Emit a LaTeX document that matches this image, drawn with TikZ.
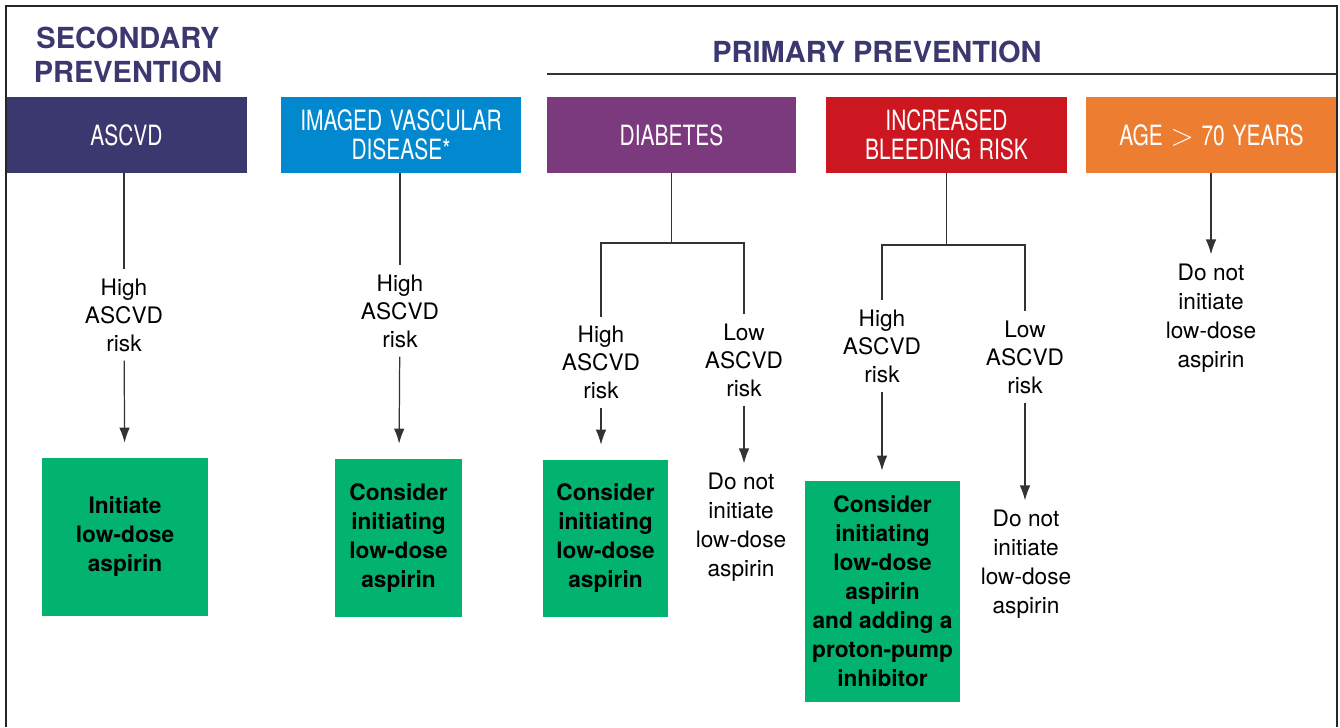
\documentclass[tikz,border=0pt]{standalone}
\usepackage{fontspec}
\setmainfont{TeX Gyre Heros}
\newfontfamily\condensed[FakeStretch=0.75,WordSpace=1.33]{TeX Gyre Heros}
\usepackage{xcolor}
\usetikzlibrary{arrows.meta,positioning,calc}
\definecolor{navy}{HTML}{3B3870}
\definecolor{vasblue}{HTML}{0288CF}
\definecolor{diabpurple}{HTML}{7B3A7D}
\definecolor{bleedred}{HTML}{CD1720}
\definecolor{ageorange}{HTML}{EC7D31}
\definecolor{actgreen}{HTML}{02B26F}
\begin{document}
\begin{tikzpicture}[
    >={Latex[length=8.5pt,width=6pt]},
    title/.style={font=\bfseries\fontsize{16.5}{19.3}\selectfont, text=navy, align=center, inner sep=0pt},
    hdr/.style={minimum width=4.82cm, minimum height=1.52cm, inner sep=0pt, text=white, align=center, font=\condensed\fontsize{15.9}{16.5}\selectfont},
    risk/.style={font=\fontsize{12.9}{15.9}\selectfont, align=center, inner sep=0.18cm},
    advice/.style={font=\fontsize{12.9}{16.5}\selectfont, align=center, inner sep=0.18cm},
    act/.style={fill=actgreen, font=\bfseries\fontsize{12.9}{16.5}\selectfont, align=center, inner sep=0pt},
    link/.style={draw=black!80, line width=0.7pt},
    frame/.style={draw=black!85, line width=1.1pt}
]
\useasboundingbox (0,0) rectangle (26.8,-14.54);

% titles
\node[title] (sec) at (2.56,-1.10) {SECONDARY\\PREVENTION};
\node[title] (prim) at (17.54,-1.04) {PRIMARY PREVENTION};
\draw[link, line width=0.8pt] (10.94,-1.48) -- (26.74,-1.48);

% header boxes
\node[hdr, fill=navy] (ascvd) at (2.53,-2.70) {ASCVD};
\node[hdr, fill=vasblue, minimum width=4.80cm] (vasc) at (8.02,-2.70) {IMAGED VASCULAR\\DISEASE*};
\node[hdr, fill=diabpurple, minimum width=4.98cm] (diab) at (13.43,-2.70) {DIABETES};
\node[hdr, fill=bleedred] (bleed) at (18.93,-2.70) {INCREASED\\BLEEDING RISK};
\node[hdr, fill=ageorange, minimum width=5.02cm] (age) at (24.23,-2.70) {AGE $>$ 70 YEARS};

% risk labels
\node[risk] (hiA) at (2.48,-6.30) {High\\ASCVD\\risk};
\node[risk] (hiB) at (8.00,-6.22) {High\\ASCVD\\risk};
\node[risk] (dHi) at (12.02,-7.25) {High\\ASCVD\\risk};
\node[risk] (dLo) at (14.88,-7.20) {Low\\ASCVD\\risk};
\node[risk] (bHi) at (17.64,-6.92) {High\\ASCVD\\risk};
\node[risk] (bLo) at (20.50,-7.14) {Low\\ASCVD\\risk};

% outcomes
\node[act, minimum width=3.32cm, minimum height=3.16cm] (gA) at (2.50,-10.74) {Initiate\\low-dose\\aspirin};
\node[act, minimum width=2.54cm, minimum height=3.16cm] (gB) at (7.97,-10.76) {Consider\\initiating\\low-dose\\aspirin};
\node[act, minimum width=2.50cm, minimum height=3.14cm] (gC) at (12.11,-10.77) {Consider\\initiating\\low-dose\\aspirin};
\node[act, minimum width=3.10cm, minimum height=4.42cm] (gD) at (17.65,-11.83) {Consider\\initiating\\low-dose\\aspirin\\and adding a\\proton-pump\\inhibitor};
\node[advice] (dNo) at (14.82,-10.54) {Do not\\initiate\\low-dose\\aspirin};
\node[advice] (bNo) at (20.52,-11.28) {Do not\\initiate\\low-dose\\aspirin};
\node[advice] (ageNo) at (24.22,-6.36) {Do not\\initiate\\low-dose\\aspirin};

\coordinate (dsplit) at (13.43,-4.86);
\coordinate (bsplit) at (18.93,-4.90);

% connectors
\draw[link] (ascvd.south -| hiA) -- (hiA);
\draw[link, ->, shorten >=0.3cm] (hiA) -- (gA);
\draw[link] (vasc.south -| hiB) -- (hiB);
\draw[link, ->, shorten >=0.3cm] (hiB) -- (gB);
\draw[link] (diab) -- (dsplit);
\draw[link] (dHi.north) |- (dsplit) -| (dLo.north);
\draw[link, ->, shorten >=0.3cm] (dHi) -- (dHi |- gC.north);
\draw[link, ->] (dLo) -- (dLo |- dNo.north);
\draw[link] (bleed) -- (bsplit);
\draw[link] (bHi.north) |- (bsplit) -| (bLo.north);
\draw[link, ->, shorten >=0.2cm] (bHi) -- (bHi |- gD.north);
\draw[link, ->] (bLo) -- (bLo |- bNo.north);
\draw[link, ->] (age.south -| ageNo) -- (ageNo);

% outer frame
\draw[frame] (0.12,-14.54) -- (0.12,-0.12) -- (26.74,-0.12) -- (26.74,-14.54);
\end{tikzpicture}
\end{document}
